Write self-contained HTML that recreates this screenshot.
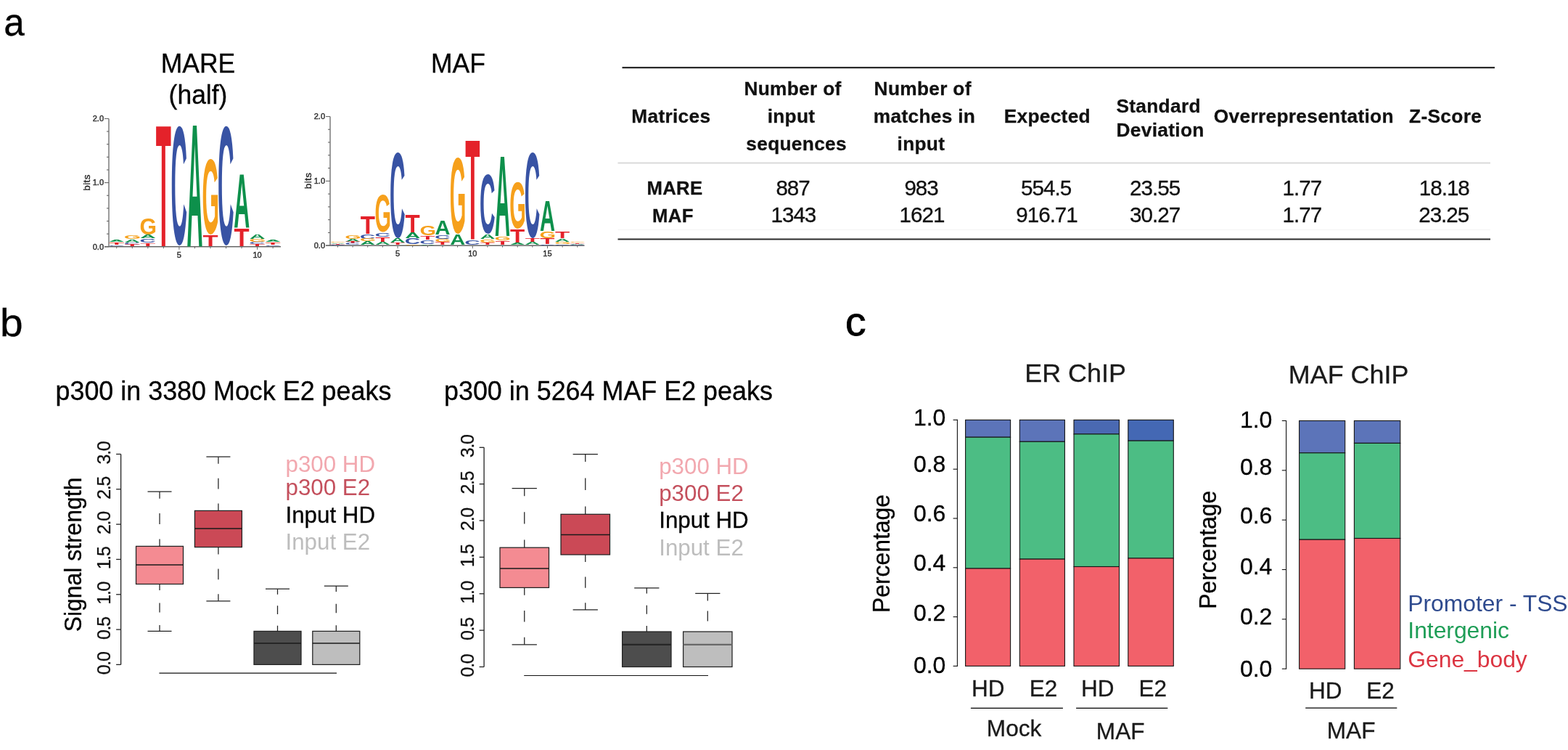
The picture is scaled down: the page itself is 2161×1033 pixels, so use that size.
<!DOCTYPE html>
<html lang="en">
<head>
<meta charset="utf-8">
<title>Figure: MARE / MAF motif enrichment, p300 signal and peak annotation</title>
<style>
html, body { margin: 0; padding: 0; background: #fff; }
body { width: 2161px; height: 1033px; overflow: hidden; }
svg { display: block; font-family: "Liberation Sans", sans-serif; }
.lg { font-family: "Liberation Sans", sans-serif; font-weight: bold; font-size: 100px; }
</style>
</head>
<body>
<svg width="2161" height="1033" viewBox="0 0 2161 1033">
<defs>
<filter id="soft" x="-5%" y="-5%" width="110%" height="110%"><feGaussianBlur stdDeviation="0.55"/></filter>
</defs>
<rect width="2161" height="1033" fill="#ffffff"/>
<g id="panel-labels">
<text transform="translate(5.2 48.9) scale(0.9 0.95)" font-size="57" stroke="#000" stroke-width="0.3">a</text>
<text transform="translate(0 463) scale(1 0.95)" font-size="57" stroke="#000" stroke-width="0.3">b</text>
<text transform="translate(1165.0 462.3) scale(1.02 0.98)" font-size="56" stroke="#000" stroke-width="0.9">c</text>
</g>
<g id="logo-mare">
<text transform="translate(273 99.5) scale(1 1.04)" font-size="35.5" text-anchor="middle" stroke="#000" stroke-width="0.3">MARE</text>
<text transform="translate(273 143) scale(1 1.04)" font-size="35.5" text-anchor="middle" stroke="#000" stroke-width="0.3">(half)</text>
<g class="logo" filter="url(#soft)">
<line x1="150.0" y1="163.4" x2="150.0" y2="339.8" stroke="#666" stroke-width="1.3"/>
<line x1="144.0" y1="339.8" x2="387" y2="339.8" stroke="#666" stroke-width="1.6"/>
<line x1="144.0" y1="339.8" x2="150.0" y2="339.8" stroke="#666" stroke-width="1.1"/>
<line x1="147.0" y1="322.16" x2="150.0" y2="322.16" stroke="#666" stroke-width="1.1"/>
<line x1="147.0" y1="304.52" x2="150.0" y2="304.52" stroke="#666" stroke-width="1.1"/>
<line x1="147.0" y1="286.88" x2="150.0" y2="286.88" stroke="#666" stroke-width="1.1"/>
<line x1="147.0" y1="269.24" x2="150.0" y2="269.24" stroke="#666" stroke-width="1.1"/>
<line x1="144.0" y1="251.60000000000002" x2="150.0" y2="251.60000000000002" stroke="#666" stroke-width="1.1"/>
<line x1="147.0" y1="233.96" x2="150.0" y2="233.96" stroke="#666" stroke-width="1.1"/>
<line x1="147.0" y1="216.32000000000002" x2="150.0" y2="216.32000000000002" stroke="#666" stroke-width="1.1"/>
<line x1="147.0" y1="198.68" x2="150.0" y2="198.68" stroke="#666" stroke-width="1.1"/>
<line x1="147.0" y1="181.04" x2="150.0" y2="181.04" stroke="#666" stroke-width="1.1"/>
<line x1="144.0" y1="163.4" x2="150.0" y2="163.4" stroke="#666" stroke-width="1.1"/>
<text transform="translate(143.0 167.20000000000002)" font-size="11" text-anchor="end" fill="#333" stroke="#333" stroke-width="0.45">2.0</text>
<text transform="translate(143.0 255.4)" font-size="11" text-anchor="end" fill="#333" stroke="#333" stroke-width="0.45">1.0</text>
<text transform="translate(143.0 343.6)" font-size="11" text-anchor="end" fill="#333" stroke="#333" stroke-width="0.45">0.0</text>
<text transform="translate(124.0 251.4) rotate(-90)" font-size="13.6" text-anchor="middle" fill="#2a2a2a" letter-spacing="0.4" stroke="#2a2a2a" stroke-width="0.4">bits</text>
<line x1="160.74" y1="339.8" x2="160.74" y2="342.3" stroke="#666" stroke-width="1.0"/>
<line x1="182.28" y1="339.8" x2="182.28" y2="342.3" stroke="#666" stroke-width="1.0"/>
<line x1="203.82" y1="339.8" x2="203.82" y2="342.3" stroke="#666" stroke-width="1.0"/>
<line x1="225.36" y1="339.8" x2="225.36" y2="342.3" stroke="#666" stroke-width="1.0"/>
<line x1="246.9" y1="339.8" x2="246.9" y2="343.8" stroke="#666" stroke-width="1.0"/>
<line x1="268.44" y1="339.8" x2="268.44" y2="342.3" stroke="#666" stroke-width="1.0"/>
<line x1="289.98" y1="339.8" x2="289.98" y2="342.3" stroke="#666" stroke-width="1.0"/>
<line x1="311.52" y1="339.8" x2="311.52" y2="342.3" stroke="#666" stroke-width="1.0"/>
<line x1="333.06" y1="339.8" x2="333.06" y2="342.3" stroke="#666" stroke-width="1.0"/>
<line x1="354.6" y1="339.8" x2="354.6" y2="343.8" stroke="#666" stroke-width="1.0"/>
<line x1="376.14" y1="339.8" x2="376.14" y2="342.3" stroke="#666" stroke-width="1.0"/>
<text transform="translate(246.9 354.6)" font-size="11" text-anchor="middle" fill="#333" stroke="#333" stroke-width="0.45">5</text>
<text transform="translate(354.6 354.6)" font-size="11" text-anchor="middle" fill="#333" stroke="#333" stroke-width="0.45">10</text>
<text class="lg" fill="#10904c" transform="matrix(0.3034 0 0 0.0291 149.81 333.07)">A</text>
<text class="lg" fill="#f6a01a" transform="matrix(0.3016 0 0 0.0226 149.33 334.87)">G</text>
<text class="lg" fill="#e4202a" transform="matrix(0.3457 0 0 0.0291 150.17 337.08)">T</text>
<text class="lg" fill="#3953a4" transform="matrix(0.3113 0 0 0.0254 149.29 339.08)">C</text>
<text class="lg" fill="#f6a01a" transform="matrix(0.3016 0 0 0.0736 170.87 329.08)">G</text>
<text class="lg" fill="#10904c" transform="matrix(0.3034 0 0 0.0583 171.35 333.74)">A</text>
<text class="lg" fill="#3953a4" transform="matrix(0.3113 0 0 0.0340 170.83 336.55)">C</text>
<text class="lg" fill="#e4202a" transform="matrix(0.3457 0 0 0.0320 171.71 339.06)">T</text>
<text class="lg" fill="#f6a01a" transform="matrix(0.3016 0 0 0.3186 192.41 323.03)">G</text>
<text class="lg" fill="#10904c" transform="matrix(0.3034 0 0 0.0641 192.89 328.35)">A</text>
<text class="lg" fill="#3953a4" transform="matrix(0.3113 0 0 0.0736 192.37 333.98)">C</text>
<text class="lg" fill="#e4202a" transform="matrix(0.3457 0 0 0.0611 193.25 338.83)">T</text>
<text class="lg" fill="#e4202a" transform="matrix(0.3457 0 0 2.3961 214.79 338.70)">T</text>
<text class="lg" fill="#3953a4" transform="matrix(0.3113 0 0 2.3190 235.45 336.44)">C</text>
<text class="lg" fill="#10904c" transform="matrix(0.3034 0 0 2.4091 257.51 338.70)">A</text>
<text class="lg" fill="#f6a01a" transform="matrix(0.3016 0 0 1.4729 278.57 321.90)">G</text>
<text class="lg" fill="#e4202a" transform="matrix(0.3457 0 0 0.2146 279.41 338.70)">T</text>
<text class="lg" fill="#3953a4" transform="matrix(0.3113 0 0 2.3190 300.07 336.44)">C</text>
<text class="lg" fill="#10904c" transform="matrix(0.3034 0 0 1.0627 322.13 314.43)">A</text>
<text class="lg" fill="#e4202a" transform="matrix(0.3457 0 0 0.3440 322.49 338.70)">T</text>
<text class="lg" fill="#10904c" transform="matrix(0.3034 0 0 0.0819 343.67 329.13)">A</text>
<text class="lg" fill="#f6a01a" transform="matrix(0.3016 0 0 0.0453 343.19 332.89)">G</text>
<text class="lg" fill="#3953a4" transform="matrix(0.3113 0 0 0.0340 343.15 335.66)">C</text>
<text class="lg" fill="#e4202a" transform="matrix(0.3457 0 0 0.0436 344.03 338.97)">T</text>
<text class="lg" fill="#10904c" transform="matrix(0.3034 0 0 0.0291 365.21 333.07)">A</text>
<text class="lg" fill="#f6a01a" transform="matrix(0.3016 0 0 0.0226 364.73 334.87)">G</text>
<text class="lg" fill="#e4202a" transform="matrix(0.3457 0 0 0.0291 365.57 337.08)">T</text>
<text class="lg" fill="#3953a4" transform="matrix(0.3113 0 0 0.0254 364.69 339.08)">C</text>
</g></g>
<g id="logo-maf">
<text transform="translate(631.5 99.5) scale(1 1.04)" font-size="35.5" text-anchor="middle" stroke="#000" stroke-width="0.3">MAF</text>
<g class="logo" filter="url(#soft)">
<line x1="455" y1="160.5" x2="455" y2="338.2" stroke="#666" stroke-width="1.3"/>
<line x1="449" y1="338.2" x2="805.5" y2="338.2" stroke="#666" stroke-width="1.6"/>
<line x1="449" y1="338.2" x2="455" y2="338.2" stroke="#666" stroke-width="1.1"/>
<line x1="452" y1="320.43" x2="455" y2="320.43" stroke="#666" stroke-width="1.1"/>
<line x1="452" y1="302.65999999999997" x2="455" y2="302.65999999999997" stroke="#666" stroke-width="1.1"/>
<line x1="452" y1="284.89" x2="455" y2="284.89" stroke="#666" stroke-width="1.1"/>
<line x1="452" y1="267.12" x2="455" y2="267.12" stroke="#666" stroke-width="1.1"/>
<line x1="449" y1="249.35" x2="455" y2="249.35" stroke="#666" stroke-width="1.1"/>
<line x1="452" y1="231.58" x2="455" y2="231.58" stroke="#666" stroke-width="1.1"/>
<line x1="452" y1="213.81" x2="455" y2="213.81" stroke="#666" stroke-width="1.1"/>
<line x1="452" y1="196.04" x2="455" y2="196.04" stroke="#666" stroke-width="1.1"/>
<line x1="452" y1="178.26999999999998" x2="455" y2="178.26999999999998" stroke="#666" stroke-width="1.1"/>
<line x1="449" y1="160.5" x2="455" y2="160.5" stroke="#666" stroke-width="1.1"/>
<text transform="translate(448 164.3)" font-size="11" text-anchor="end" fill="#333" stroke="#333" stroke-width="0.45">2.0</text>
<text transform="translate(448 252.9)" font-size="11" text-anchor="end" fill="#333" stroke="#333" stroke-width="0.45">1.0</text>
<text transform="translate(448 342.0)" font-size="11" text-anchor="end" fill="#333" stroke="#333" stroke-width="0.45">0.0</text>
<text transform="translate(429.0 248.9) rotate(-90)" font-size="13.6" text-anchor="middle" fill="#2a2a2a" letter-spacing="0.4" stroke="#2a2a2a" stroke-width="0.4">bits</text>
<line x1="465.5" y1="338.2" x2="465.5" y2="340.7" stroke="#666" stroke-width="1.0"/>
<line x1="486.14" y1="338.2" x2="486.14" y2="340.7" stroke="#666" stroke-width="1.0"/>
<line x1="506.78" y1="338.2" x2="506.78" y2="340.7" stroke="#666" stroke-width="1.0"/>
<line x1="527.42" y1="338.2" x2="527.42" y2="340.7" stroke="#666" stroke-width="1.0"/>
<line x1="548.06" y1="338.2" x2="548.06" y2="342.2" stroke="#666" stroke-width="1.0"/>
<line x1="568.7" y1="338.2" x2="568.7" y2="340.7" stroke="#666" stroke-width="1.0"/>
<line x1="589.34" y1="338.2" x2="589.34" y2="340.7" stroke="#666" stroke-width="1.0"/>
<line x1="609.98" y1="338.2" x2="609.98" y2="340.7" stroke="#666" stroke-width="1.0"/>
<line x1="630.62" y1="338.2" x2="630.62" y2="340.7" stroke="#666" stroke-width="1.0"/>
<line x1="651.26" y1="338.2" x2="651.26" y2="342.2" stroke="#666" stroke-width="1.0"/>
<line x1="671.9" y1="338.2" x2="671.9" y2="340.7" stroke="#666" stroke-width="1.0"/>
<line x1="692.54" y1="338.2" x2="692.54" y2="340.7" stroke="#666" stroke-width="1.0"/>
<line x1="713.1800000000001" y1="338.2" x2="713.1800000000001" y2="340.7" stroke="#666" stroke-width="1.0"/>
<line x1="733.8199999999999" y1="338.2" x2="733.8199999999999" y2="340.7" stroke="#666" stroke-width="1.0"/>
<line x1="754.46" y1="338.2" x2="754.46" y2="342.2" stroke="#666" stroke-width="1.0"/>
<line x1="775.1" y1="338.2" x2="775.1" y2="340.7" stroke="#666" stroke-width="1.0"/>
<line x1="795.74" y1="338.2" x2="795.74" y2="340.7" stroke="#666" stroke-width="1.0"/>
<text transform="translate(548.06 353.0)" font-size="11" text-anchor="middle" fill="#333" stroke="#333" stroke-width="0.45">5</text>
<text transform="translate(651.26 353.0)" font-size="11" text-anchor="middle" fill="#333" stroke="#333" stroke-width="0.45">10</text>
<text transform="translate(754.46 353.0)" font-size="11" text-anchor="middle" fill="#333" stroke="#333" stroke-width="0.45">15</text>
<text class="lg" fill="#f6a01a" transform="matrix(0.2890 0 0 0.0226 454.56 334.43)">G</text>
<text class="lg" fill="#10904c" transform="matrix(0.2907 0 0 0.0175 455.02 335.84)">A</text>
<text class="lg" fill="#e4202a" transform="matrix(0.3312 0 0 0.0146 455.38 336.97)">T</text>
<text class="lg" fill="#3953a4" transform="matrix(0.2983 0 0 0.0078 454.52 337.63)">C</text>
<text class="lg" fill="#f6a01a" transform="matrix(0.2890 0 0 0.0796 475.20 328.61)">G</text>
<text class="lg" fill="#10904c" transform="matrix(0.2907 0 0 0.0466 475.66 332.50)">A</text>
<text class="lg" fill="#e4202a" transform="matrix(0.3312 0 0 0.0350 476.02 335.26)">T</text>
<text class="lg" fill="#3953a4" transform="matrix(0.2983 0 0 0.0276 475.16 337.46)">C</text>
<text class="lg" fill="#e4202a" transform="matrix(0.3312 0 0 0.3473 496.66 322.01)">T</text>
<text class="lg" fill="#3953a4" transform="matrix(0.2983 0 0 0.0859 495.80 328.61)">C</text>
<text class="lg" fill="#f6a01a" transform="matrix(0.2890 0 0 0.0453 495.84 332.45)">G</text>
<text class="lg" fill="#10904c" transform="matrix(0.2907 0 0 0.0634 496.30 337.22)">A</text>
<text class="lg" fill="#f6a01a" transform="matrix(0.2890 0 0 0.7307 516.48 319.07)">G</text>
<text class="lg" fill="#3953a4" transform="matrix(0.2983 0 0 0.0796 516.44 325.94)">C</text>
<text class="lg" fill="#e4202a" transform="matrix(0.3312 0 0 0.0949 517.30 333.14)">T</text>
<text class="lg" fill="#10904c" transform="matrix(0.2907 0 0 0.0518 516.94 337.30)">A</text>
<text class="lg" fill="#3953a4" transform="matrix(0.2983 0 0 1.6680 537.08 325.95)">C</text>
<text class="lg" fill="#10904c" transform="matrix(0.2907 0 0 0.0851 537.58 334.03)">A</text>
<text class="lg" fill="#e4202a" transform="matrix(0.3312 0 0 0.0401 537.94 337.39)">T</text>
<text class="lg" fill="#e4202a" transform="matrix(0.3312 0 0 0.3473 558.58 319.78)">T</text>
<text class="lg" fill="#10904c" transform="matrix(0.2907 0 0 0.1143 558.22 328.24)">A</text>
<text class="lg" fill="#3953a4" transform="matrix(0.2983 0 0 0.1048 557.72 336.16)">C</text>
<text class="lg" fill="#f6a01a" transform="matrix(0.2890 0 0 0.0107 557.76 337.61)">G</text>
<text class="lg" fill="#f6a01a" transform="matrix(0.2890 0 0 0.1897 578.40 323.61)">G</text>
<text class="lg" fill="#e4202a" transform="matrix(0.3312 0 0 0.0757 579.22 329.60)">T</text>
<text class="lg" fill="#3953a4" transform="matrix(0.2983 0 0 0.0796 578.36 335.74)">C</text>
<text class="lg" fill="#10904c" transform="matrix(0.2907 0 0 0.0168 578.86 337.57)">A</text>
<text class="lg" fill="#10904c" transform="matrix(0.2907 0 0 0.2697 599.50 323.34)">A</text>
<text class="lg" fill="#3953a4" transform="matrix(0.2983 0 0 0.0679 599.00 328.69)">C</text>
<text class="lg" fill="#f6a01a" transform="matrix(0.2890 0 0 0.0510 599.04 332.85)">G</text>
<text class="lg" fill="#e4202a" transform="matrix(0.3312 0 0 0.0576 599.86 337.26)">T</text>
<text class="lg" fill="#f6a01a" transform="matrix(0.2890 0 0 1.4856 619.68 320.56)">G</text>
<text class="lg" fill="#10904c" transform="matrix(0.2907 0 0 0.2049 620.14 336.71)">A</text>
<text class="lg" fill="#e4202a" transform="matrix(0.3312 0 0 0.0051 620.50 337.66)">T</text>
<text class="lg" fill="#e4202a" transform="matrix(0.3312 0 0 1.9690 641.14 329.58)">T</text>
<text class="lg" fill="#3953a4" transform="matrix(0.2983 0 0 0.0922 640.28 336.62)">C</text>
<text class="lg" fill="#10904c" transform="matrix(0.2907 0 0 0.0051 640.78 337.66)">A</text>
<text class="lg" fill="#3953a4" transform="matrix(0.2983 0 0 1.1490 660.92 320.89)">C</text>
<text class="lg" fill="#10904c" transform="matrix(0.2907 0 0 0.0949 661.42 329.13)">A</text>
<text class="lg" fill="#f6a01a" transform="matrix(0.2890 0 0 0.0623 660.96 334.08)">G</text>
<text class="lg" fill="#e4202a" transform="matrix(0.3312 0 0 0.0401 661.78 337.39)">T</text>
<text class="lg" fill="#10904c" transform="matrix(0.2907 0 0 1.5838 682.06 325.13)">A</text>
<text class="lg" fill="#f6a01a" transform="matrix(0.2890 0 0 0.0736 681.60 330.87)">G</text>
<text class="lg" fill="#e4202a" transform="matrix(0.3312 0 0 0.0812 682.42 337.10)">T</text>
<text class="lg" fill="#f6a01a" transform="matrix(0.2890 0 0 0.9068 702.24 314.00)">G</text>
<text class="lg" fill="#e4202a" transform="matrix(0.3312 0 0 0.2826 703.06 334.92)">T</text>
<text class="lg" fill="#10904c" transform="matrix(0.2907 0 0 0.0285 702.70 337.48)">A</text>
<text class="lg" fill="#3953a4" transform="matrix(0.2983 0 0 1.6649 722.84 325.73)">C</text>
<text class="lg" fill="#e4202a" transform="matrix(0.3312 0 0 0.0699 723.70 332.76)">T</text>
<text class="lg" fill="#10904c" transform="matrix(0.2907 0 0 0.0576 723.34 337.26)">A</text>
<text class="lg" fill="#10904c" transform="matrix(0.2907 0 0 0.5869 743.98 318.45)">A</text>
<text class="lg" fill="#f6a01a" transform="matrix(0.2890 0 0 0.1236 743.52 327.68)">G</text>
<text class="lg" fill="#e4202a" transform="matrix(0.3312 0 0 0.1143 744.34 336.26)">T</text>
<text class="lg" fill="#3953a4" transform="matrix(0.2983 0 0 0.0107 743.48 337.61)">C</text>
<text class="lg" fill="#e4202a" transform="matrix(0.3312 0 0 0.1208 764.98 328.24)">T</text>
<text class="lg" fill="#10904c" transform="matrix(0.2907 0 0 0.0583 764.62 332.85)">A</text>
<text class="lg" fill="#f6a01a" transform="matrix(0.2890 0 0 0.0340 764.16 335.67)">G</text>
<text class="lg" fill="#3953a4" transform="matrix(0.2983 0 0 0.0220 764.12 337.51)">C</text>
<text class="lg" fill="#f6a01a" transform="matrix(0.2890 0 0 0.0226 784.80 334.43)">G</text>
<text class="lg" fill="#e4202a" transform="matrix(0.3312 0 0 0.0175 785.62 335.84)">T</text>
<text class="lg" fill="#10904c" transform="matrix(0.2907 0 0 0.0146 785.26 336.97)">A</text>
<text class="lg" fill="#3953a4" transform="matrix(0.2983 0 0 0.0078 784.76 337.63)">C</text>
</g></g>
<g id="table">
<line x1="857.5" y1="93.2" x2="2060" y2="93.2" stroke="#2a2a2a" stroke-width="2.2"/>
<line x1="851.5" y1="224.4" x2="2054" y2="224.4" stroke="#d0d0d0" stroke-width="1.5"/>
<line x1="851.5" y1="316.6" x2="2054" y2="316.6" stroke="#f6f6f6" stroke-width="1.5"/>
<line x1="851.5" y1="329.5" x2="2054" y2="329.5" stroke="#2a2a2a" stroke-width="2.2"/>
<text transform="translate(924.8 168.8)" font-size="26.3" text-anchor="middle" font-weight="bold" fill="#111" letter-spacing="0.3" stroke="#111" stroke-width="0.3">Matrices</text>
<text transform="translate(1092.5 131.0)" font-size="26.3" text-anchor="middle" font-weight="bold" fill="#111" letter-spacing="0.3" stroke="#111" stroke-width="0.3">Number of</text>
<text transform="translate(1090.5 168.8)" font-size="26.3" text-anchor="middle" font-weight="bold" fill="#111" letter-spacing="0.3" stroke="#111" stroke-width="0.3">input</text>
<text transform="translate(1097.6 206.8)" font-size="26.3" text-anchor="middle" font-weight="bold" fill="#111" letter-spacing="0.3" stroke="#111" stroke-width="0.3">sequences</text>
<text transform="translate(1271.7 131.0)" font-size="26.3" text-anchor="middle" font-weight="bold" fill="#111" letter-spacing="0.3" stroke="#111" stroke-width="0.3">Number of</text>
<text transform="translate(1274.0 168.8)" font-size="26.3" text-anchor="middle" font-weight="bold" fill="#111" letter-spacing="0.3" stroke="#111" stroke-width="0.3">matches in</text>
<text transform="translate(1269.4 206.8)" font-size="26.3" text-anchor="middle" font-weight="bold" fill="#111" letter-spacing="0.3" stroke="#111" stroke-width="0.3">input</text>
<text transform="translate(1443.3 168.8)" font-size="26.3" text-anchor="middle" font-weight="bold" fill="#111" letter-spacing="0.3" stroke="#111" stroke-width="0.3">Expected</text>
<text transform="translate(1596.6 155.2)" font-size="26.3" text-anchor="middle" font-weight="bold" fill="#111" letter-spacing="0.3" stroke="#111" stroke-width="0.3">Standard</text>
<text transform="translate(1599.1 187.8)" font-size="26.3" text-anchor="middle" font-weight="bold" fill="#111" letter-spacing="0.3" stroke="#111" stroke-width="0.3">Deviation</text>
<text transform="translate(1796.8 168.8)" font-size="26.3" text-anchor="middle" font-weight="bold" fill="#111" letter-spacing="0.3" stroke="#111" stroke-width="0.3">Overrepresentation</text>
<text transform="translate(1992.1 168.8)" font-size="26.3" text-anchor="middle" font-weight="bold" fill="#111" letter-spacing="0.3" stroke="#111" stroke-width="0.3">Z-Score</text>
<text transform="translate(930 268.2) scale(1 1.02)" font-size="25.7" text-anchor="middle" font-weight="bold" fill="#111" letter-spacing="0.4" stroke="#111" stroke-width="0.3">MARE</text>
<text transform="translate(1092.6 268.6)" font-size="29.6" text-anchor="middle" fill="#111" letter-spacing="-1.0" stroke="#111" stroke-width="0.3">887</text>
<text transform="translate(1269.6 268.6)" font-size="29.6" text-anchor="middle" fill="#111" letter-spacing="-1.0" stroke="#111" stroke-width="0.3">983</text>
<text transform="translate(1441.6 268.6)" font-size="29.6" text-anchor="middle" fill="#111" letter-spacing="-1.0" stroke="#111" stroke-width="0.3">554.5</text>
<text transform="translate(1591.6 268.6)" font-size="29.6" text-anchor="middle" fill="#111" letter-spacing="-1.0" stroke="#111" stroke-width="0.3">23.55</text>
<text transform="translate(1794.4 268.6)" font-size="29.6" text-anchor="middle" fill="#111" letter-spacing="-1.0" stroke="#111" stroke-width="0.3">1.77</text>
<text transform="translate(1990.3 268.6)" font-size="29.6" text-anchor="middle" fill="#111" letter-spacing="-1.0" stroke="#111" stroke-width="0.3">18.18</text>
<text transform="translate(927.5 306.0) scale(1 1.02)" font-size="25.7" text-anchor="middle" font-weight="bold" fill="#111" letter-spacing="0.4" stroke="#111" stroke-width="0.3">MAF</text>
<text transform="translate(1093.4 306.40000000000003)" font-size="29.6" text-anchor="middle" fill="#111" letter-spacing="-1.0" stroke="#111" stroke-width="0.3">1343</text>
<text transform="translate(1270.5 306.40000000000003)" font-size="29.6" text-anchor="middle" fill="#111" letter-spacing="-1.0" stroke="#111" stroke-width="0.3">1621</text>
<text transform="translate(1442.5 306.40000000000003)" font-size="29.6" text-anchor="middle" fill="#111" letter-spacing="-1.0" stroke="#111" stroke-width="0.3">916.71</text>
<text transform="translate(1591.6 306.40000000000003)" font-size="29.6" text-anchor="middle" fill="#111" letter-spacing="-1.0" stroke="#111" stroke-width="0.3">30.27</text>
<text transform="translate(1794.4 306.40000000000003)" font-size="29.6" text-anchor="middle" fill="#111" letter-spacing="-1.0" stroke="#111" stroke-width="0.3">1.77</text>
<text transform="translate(1989.7 306.40000000000003)" font-size="29.6" text-anchor="middle" fill="#111" letter-spacing="-1.0" stroke="#111" stroke-width="0.3">23.25</text>
</g>
<g id="box-mock">
<text transform="translate(76.5 550.9) scale(1 1.04)" font-size="35.9" stroke="#000" stroke-width="0.3">p300 in 3380 Mock E2 peaks</text>
<line x1="166.6" y1="625.5" x2="166.6" y2="915.4" stroke="#222" stroke-width="1.3"/>
<line x1="160.1" y1="915.4" x2="166.6" y2="915.4" stroke="#222" stroke-width="1.3"/>
<text transform="translate(152.4 913.9) rotate(-90)" font-size="25" text-anchor="middle" fill="#111" letter-spacing="-1.3" stroke="#111" stroke-width="0.3">0.0</text>
<line x1="160.1" y1="867.0833333333333" x2="166.6" y2="867.0833333333333" stroke="#222" stroke-width="1.3"/>
<text transform="translate(152.4 865.5833333333333) rotate(-90)" font-size="25" text-anchor="middle" fill="#111" letter-spacing="-1.3" stroke="#111" stroke-width="0.3">0.5</text>
<line x1="160.1" y1="818.7666666666667" x2="166.6" y2="818.7666666666667" stroke="#222" stroke-width="1.3"/>
<text transform="translate(152.4 817.2666666666667) rotate(-90)" font-size="25" text-anchor="middle" fill="#111" letter-spacing="-1.3" stroke="#111" stroke-width="0.3">1.0</text>
<line x1="160.1" y1="770.45" x2="166.6" y2="770.45" stroke="#222" stroke-width="1.3"/>
<text transform="translate(152.4 768.95) rotate(-90)" font-size="25" text-anchor="middle" fill="#111" letter-spacing="-1.3" stroke="#111" stroke-width="0.3">1.5</text>
<line x1="160.1" y1="722.1333333333333" x2="166.6" y2="722.1333333333333" stroke="#222" stroke-width="1.3"/>
<text transform="translate(152.4 720.6333333333333) rotate(-90)" font-size="25" text-anchor="middle" fill="#111" letter-spacing="-1.3" stroke="#111" stroke-width="0.3">2.0</text>
<line x1="160.1" y1="673.8166666666666" x2="166.6" y2="673.8166666666666" stroke="#222" stroke-width="1.3"/>
<text transform="translate(152.4 672.3166666666666) rotate(-90)" font-size="25" text-anchor="middle" fill="#111" letter-spacing="-1.3" stroke="#111" stroke-width="0.3">2.5</text>
<line x1="160.1" y1="625.5" x2="166.6" y2="625.5" stroke="#222" stroke-width="1.3"/>
<text transform="translate(152.4 624.0) rotate(-90)" font-size="25" text-anchor="middle" fill="#111" letter-spacing="-1.3" stroke="#111" stroke-width="0.3">3.0</text>
<text transform="translate(112.3 764) rotate(-90) scale(1 1.04)" font-size="31.9" text-anchor="middle" stroke="#000" stroke-width="0.3">Signal strength</text>
<line x1="220.0" y1="677" x2="220.0" y2="752.4" stroke="#222" stroke-width="1.25" stroke-dasharray="9.65 20.36 15.08 20.36 10.56"/>
<line x1="203.49" y1="677" x2="236.51" y2="677" stroke="#222" stroke-width="1.25"/>
<line x1="220.0" y1="869.4" x2="220.0" y2="804.5" stroke="#222" stroke-width="1.25" stroke-dasharray="8.31 17.52 12.98 17.52 9.09"/>
<line x1="203.49" y1="869.4" x2="236.51" y2="869.4" stroke="#222" stroke-width="1.25"/>
<rect x="187.50" y="752.40" width="65.00" height="52.10" fill="#f48b92" stroke="#222" stroke-width="1.25"/>
<line x1="187.5" y1="778.1" x2="252.5" y2="778.1" stroke="#1a1a1a" stroke-width="1.5"/>
<line x1="300.9" y1="629.2" x2="300.9" y2="703.4" stroke="#222" stroke-width="1.25" stroke-dasharray="9.50 20.03 14.84 20.03 10.39"/>
<line x1="284.39" y1="629.2" x2="317.40999999999997" y2="629.2" stroke="#222" stroke-width="1.25"/>
<line x1="300.9" y1="827.8" x2="300.9" y2="753.6" stroke="#222" stroke-width="1.25" stroke-dasharray="9.50 20.03 14.84 20.03 10.39"/>
<line x1="284.39" y1="827.8" x2="317.40999999999997" y2="827.8" stroke="#222" stroke-width="1.25"/>
<rect x="268.40" y="703.40" width="65.00" height="50.20" fill="#cb4956" stroke="#222" stroke-width="1.25"/>
<line x1="268.4" y1="727.9" x2="333.4" y2="727.9" stroke="#1a1a1a" stroke-width="1.5"/>
<line x1="382.5" y1="811.2" x2="382.5" y2="869.4" stroke="#222" stroke-width="1.25" stroke-dasharray="7.45 15.71 11.64 15.71 8.15"/>
<line x1="365.99" y1="811.2" x2="399.01" y2="811.2" stroke="#222" stroke-width="1.25"/>
<rect x="350.00" y="869.40" width="65.00" height="46.00" fill="#4d4d4d" stroke="#222" stroke-width="1.25"/>
<line x1="350" y1="886" x2="415" y2="886" stroke="#1a1a1a" stroke-width="1.5"/>
<line x1="463.3" y1="807" x2="463.3" y2="869.4" stroke="#222" stroke-width="1.25" stroke-dasharray="7.99 16.85 12.48 16.85 8.74"/>
<line x1="446.79" y1="807" x2="479.81" y2="807" stroke="#222" stroke-width="1.25"/>
<rect x="430.80" y="869.40" width="65.00" height="46.00" fill="#bebebe" stroke="#222" stroke-width="1.25"/>
<line x1="430.8" y1="886" x2="495.8" y2="886" stroke="#1a1a1a" stroke-width="1.5"/>
<line x1="219.4" y1="927.1" x2="464" y2="927.1" stroke="#111" stroke-width="1.2"/>
<text transform="translate(393.5 649.9)" font-size="31.3" fill="#f2a8af">p300 HD</text>
<text transform="translate(393.5 682.1)" font-size="31.3" fill="#c4505d">p300 E2</text>
<text transform="translate(393.5 720)" font-size="31.3" stroke="#000" stroke-width="0.3">Input HD</text>
<text transform="translate(393.5 757.3)" font-size="31.3" fill="#bdbdbd">Input E2</text>
</g>
<g id="box-maf">
<text transform="translate(612 550.9) scale(1 1.04)" font-size="35.9" stroke="#000" stroke-width="0.3">p300 in 5264 MAF E2 peaks</text>
<line x1="667.1" y1="616.3" x2="667.1" y2="918.5" stroke="#222" stroke-width="1.3"/>
<line x1="660.6" y1="918.5" x2="667.1" y2="918.5" stroke="#222" stroke-width="1.3"/>
<text transform="translate(652.9 917.0) rotate(-90)" font-size="25" text-anchor="middle" fill="#111" letter-spacing="-1.3" stroke="#111" stroke-width="0.3">0.0</text>
<line x1="660.6" y1="868.1333333333333" x2="667.1" y2="868.1333333333333" stroke="#222" stroke-width="1.3"/>
<text transform="translate(652.9 866.6333333333333) rotate(-90)" font-size="25" text-anchor="middle" fill="#111" letter-spacing="-1.3" stroke="#111" stroke-width="0.3">0.5</text>
<line x1="660.6" y1="817.7666666666667" x2="667.1" y2="817.7666666666667" stroke="#222" stroke-width="1.3"/>
<text transform="translate(652.9 816.2666666666667) rotate(-90)" font-size="25" text-anchor="middle" fill="#111" letter-spacing="-1.3" stroke="#111" stroke-width="0.3">1.0</text>
<line x1="660.6" y1="767.4" x2="667.1" y2="767.4" stroke="#222" stroke-width="1.3"/>
<text transform="translate(652.9 765.9) rotate(-90)" font-size="25" text-anchor="middle" fill="#111" letter-spacing="-1.3" stroke="#111" stroke-width="0.3">1.5</text>
<line x1="660.6" y1="717.0333333333333" x2="667.1" y2="717.0333333333333" stroke="#222" stroke-width="1.3"/>
<text transform="translate(652.9 715.5333333333333) rotate(-90)" font-size="25" text-anchor="middle" fill="#111" letter-spacing="-1.3" stroke="#111" stroke-width="0.3">2.0</text>
<line x1="660.6" y1="666.6666666666666" x2="667.1" y2="666.6666666666666" stroke="#222" stroke-width="1.3"/>
<text transform="translate(652.9 665.1666666666666) rotate(-90)" font-size="25" text-anchor="middle" fill="#111" letter-spacing="-1.3" stroke="#111" stroke-width="0.3">2.5</text>
<line x1="660.6" y1="616.3" x2="667.1" y2="616.3" stroke="#222" stroke-width="1.3"/>
<text transform="translate(652.9 614.8) rotate(-90)" font-size="25" text-anchor="middle" fill="#111" letter-spacing="-1.3" stroke="#111" stroke-width="0.3">3.0</text>
<line x1="722.75" y1="672.7" x2="722.75" y2="754.2" stroke="#222" stroke-width="1.25" stroke-dasharray="10.43 22.01 16.30 22.01 11.41"/>
<line x1="705.605" y1="672.7" x2="739.895" y2="672.7" stroke="#222" stroke-width="1.25"/>
<line x1="722.75" y1="887.8" x2="722.75" y2="809.4" stroke="#222" stroke-width="1.25" stroke-dasharray="10.04 21.17 15.68 21.17 10.98"/>
<line x1="705.605" y1="887.8" x2="739.895" y2="887.8" stroke="#222" stroke-width="1.25"/>
<rect x="689.00" y="754.20" width="67.50" height="55.20" fill="#f48b92" stroke="#222" stroke-width="1.25"/>
<line x1="689" y1="783" x2="756.5" y2="783" stroke="#1a1a1a" stroke-width="1.5"/>
<line x1="806.75" y1="625.5" x2="806.75" y2="708.3" stroke="#222" stroke-width="1.25" stroke-dasharray="10.60 22.36 16.56 22.36 11.59"/>
<line x1="789.605" y1="625.5" x2="823.895" y2="625.5" stroke="#222" stroke-width="1.25"/>
<line x1="806.75" y1="839.9" x2="806.75" y2="764" stroke="#222" stroke-width="1.25" stroke-dasharray="9.72 20.49 15.18 20.49 10.63"/>
<line x1="789.605" y1="839.9" x2="823.895" y2="839.9" stroke="#222" stroke-width="1.25"/>
<rect x="773.00" y="708.30" width="67.50" height="55.70" fill="#cb4956" stroke="#222" stroke-width="1.25"/>
<line x1="773" y1="736.5" x2="840.5" y2="736.5" stroke="#1a1a1a" stroke-width="1.5"/>
<line x1="891.3" y1="809.8" x2="891.3" y2="870" stroke="#222" stroke-width="1.25" stroke-dasharray="7.71 16.25 12.04 16.25 8.43"/>
<line x1="874.1804" y1="809.8" x2="908.4196" y2="809.8" stroke="#222" stroke-width="1.25"/>
<rect x="857.60" y="870.00" width="67.40" height="48.50" fill="#4d4d4d" stroke="#222" stroke-width="1.25"/>
<line x1="857.6" y1="887.8" x2="925" y2="887.8" stroke="#262626" stroke-width="2.3"/>
<line x1="975.3" y1="817.4" x2="975.3" y2="870" stroke="#222" stroke-width="1.25" stroke-dasharray="10 14 14 60"/>
<line x1="958.1804" y1="817.4" x2="992.4196" y2="817.4" stroke="#222" stroke-width="1.25"/>
<rect x="941.60" y="870.00" width="67.40" height="48.50" fill="#bebebe" stroke="#222" stroke-width="1.25"/>
<line x1="941.6" y1="887.8" x2="1009" y2="887.8" stroke="#686868" stroke-width="2.3"/>
<line x1="722.2" y1="930.5" x2="976" y2="930.5" stroke="#111" stroke-width="1.2"/>
<text transform="translate(908.2 652.6)" font-size="31.3" fill="#f2a8af">p300 HD</text>
<text transform="translate(908.2 689.8)" font-size="31.3" fill="#c4505d">p300 E2</text>
<text transform="translate(908.2 726.7)" font-size="31.3" stroke="#000" stroke-width="0.3">Input HD</text>
<text transform="translate(908.2 764.9)" font-size="31.3" fill="#bdbdbd">Input E2</text>
</g>
<g id="bar-er">
<text transform="translate(1482.1 526.3)" font-size="35.9" text-anchor="middle" fill="#1a1a1a" stroke="#1a1a1a" stroke-width="0.3">ER ChIP</text>
<line x1="1319.4" y1="577.8" x2="1319.4" y2="918.0" stroke="#111" stroke-width="1.1"/>
<line x1="1313.6000000000001" y1="917.4" x2="1319.4" y2="917.4" stroke="#111" stroke-width="1.1"/>
<text transform="translate(1303.4 926.9)" font-size="32" text-anchor="end" stroke="#000" stroke-width="0.3">0.0</text>
<line x1="1313.6000000000001" y1="849.6" x2="1319.4" y2="849.6" stroke="#111" stroke-width="1.1"/>
<text transform="translate(1303.4 854.9)" font-size="32" text-anchor="end" stroke="#000" stroke-width="0.3">0.2</text>
<line x1="1313.6000000000001" y1="781.8" x2="1319.4" y2="781.8" stroke="#111" stroke-width="1.1"/>
<text transform="translate(1303.4 786.2)" font-size="32" text-anchor="end" stroke="#000" stroke-width="0.3">0.4</text>
<line x1="1313.6000000000001" y1="714.0" x2="1319.4" y2="714.0" stroke="#111" stroke-width="1.1"/>
<text transform="translate(1303.4 718.0)" font-size="32" text-anchor="end" stroke="#000" stroke-width="0.3">0.6</text>
<line x1="1313.6000000000001" y1="646.2" x2="1319.4" y2="646.2" stroke="#111" stroke-width="1.1"/>
<text transform="translate(1303.4 649.8)" font-size="32" text-anchor="end" stroke="#000" stroke-width="0.3">0.8</text>
<line x1="1313.6000000000001" y1="578.4" x2="1319.4" y2="578.4" stroke="#111" stroke-width="1.1"/>
<text transform="translate(1303.4 585.5)" font-size="32" text-anchor="end" stroke="#000" stroke-width="0.3">1.0</text>
<rect x="1330.60" y="578.40" width="62.00" height="23.80" fill="#5c74b9" stroke="#161616" stroke-width="1.1"/>
<rect x="1330.60" y="602.20" width="62.00" height="180.80" fill="#4cbd84" stroke="#161616" stroke-width="1.1"/>
<rect x="1330.60" y="783.00" width="62.00" height="134.40" fill="#f2616a" stroke="#161616" stroke-width="1.1"/>
<rect x="1405.30" y="578.40" width="62.10" height="29.90" fill="#5c74b9" stroke="#161616" stroke-width="1.1"/>
<rect x="1405.30" y="608.30" width="62.10" height="161.80" fill="#4cbd84" stroke="#161616" stroke-width="1.1"/>
<rect x="1405.30" y="770.10" width="62.10" height="147.30" fill="#f2616a" stroke="#161616" stroke-width="1.1"/>
<rect x="1480.00" y="578.40" width="62.50" height="19.50" fill="#4a69b2" stroke="#161616" stroke-width="1.1"/>
<rect x="1480.00" y="597.90" width="62.50" height="182.60" fill="#4cbd84" stroke="#161616" stroke-width="1.1"/>
<rect x="1480.00" y="780.50" width="62.50" height="136.90" fill="#f2616a" stroke="#161616" stroke-width="1.1"/>
<rect x="1554.80" y="578.40" width="62.50" height="28.70" fill="#4468b4" stroke="#161616" stroke-width="1.1"/>
<rect x="1554.80" y="607.10" width="62.50" height="161.80" fill="#4cbd84" stroke="#161616" stroke-width="1.1"/>
<rect x="1554.80" y="768.90" width="62.50" height="148.50" fill="#f2616a" stroke="#161616" stroke-width="1.1"/>
<text transform="translate(1361.8 959.2)" font-size="31.5" text-anchor="middle" fill="#1a1a1a" stroke="#1a1a1a" stroke-width="0.3">HD</text>
<text transform="translate(1438 959.2)" font-size="31.5" text-anchor="middle" fill="#1a1a1a" stroke="#1a1a1a" stroke-width="0.3">E2</text>
<text transform="translate(1512.7 959.2)" font-size="31.5" text-anchor="middle" fill="#1a1a1a" stroke="#1a1a1a" stroke-width="0.3">HD</text>
<text transform="translate(1588.7 959.2)" font-size="31.5" text-anchor="middle" fill="#1a1a1a" stroke="#1a1a1a" stroke-width="0.3">E2</text>
<line x1="1337.9" y1="975.3" x2="1464.9" y2="975.3" stroke="#000" stroke-width="1.3"/>
<text transform="translate(1397.6 1014.2)" font-size="31.6" text-anchor="middle" fill="#1a1a1a" stroke="#1a1a1a" stroke-width="0.3">Mock</text>
<line x1="1483.1" y1="975.3" x2="1609.3" y2="975.3" stroke="#000" stroke-width="1.3"/>
<text transform="translate(1544.2 1017.9)" font-size="31.6" text-anchor="middle" fill="#1a1a1a" stroke="#1a1a1a" stroke-width="0.3">MAF</text>
<text transform="translate(1226.3 762.5) rotate(-90) scale(1 1.05)" font-size="31.9" text-anchor="middle" stroke="#000" stroke-width="0.3">Percentage</text>
</g>
<g id="bar-maf">
<text transform="translate(1858.6 527.5)" font-size="35.9" text-anchor="middle" fill="#1a1a1a" stroke="#1a1a1a" stroke-width="0.3">MAF ChIP</text>
<line x1="1772.6" y1="578.9" x2="1772.6" y2="921.8000000000001" stroke="#111" stroke-width="1.1"/>
<line x1="1766.8" y1="921.2" x2="1772.6" y2="921.2" stroke="#111" stroke-width="1.1"/>
<text transform="translate(1753.4 931.9)" font-size="32" text-anchor="end" stroke="#000" stroke-width="0.3">0.0</text>
<line x1="1766.8" y1="852.86" x2="1772.6" y2="852.86" stroke="#111" stroke-width="1.1"/>
<text transform="translate(1753.4 860.0)" font-size="32" text-anchor="end" stroke="#000" stroke-width="0.3">0.2</text>
<line x1="1766.8" y1="784.52" x2="1772.6" y2="784.52" stroke="#111" stroke-width="1.1"/>
<text transform="translate(1753.4 791.2)" font-size="32" text-anchor="end" stroke="#000" stroke-width="0.3">0.4</text>
<line x1="1766.8" y1="716.1800000000001" x2="1772.6" y2="716.1800000000001" stroke="#111" stroke-width="1.1"/>
<text transform="translate(1753.4 721.1)" font-size="32" text-anchor="end" stroke="#000" stroke-width="0.3">0.6</text>
<line x1="1766.8" y1="647.84" x2="1772.6" y2="647.84" stroke="#111" stroke-width="1.1"/>
<text transform="translate(1753.4 653.7)" font-size="32" text-anchor="end" stroke="#000" stroke-width="0.3">0.8</text>
<line x1="1766.8" y1="579.5" x2="1772.6" y2="579.5" stroke="#111" stroke-width="1.1"/>
<text transform="translate(1753.4 589.4)" font-size="32" text-anchor="end" stroke="#000" stroke-width="0.3">1.0</text>
<rect x="1790.60" y="579.50" width="63.10" height="44.30" fill="#5c74b9" stroke="#161616" stroke-width="1.1"/>
<rect x="1790.60" y="623.80" width="63.10" height="119.40" fill="#4cbd84" stroke="#161616" stroke-width="1.1"/>
<rect x="1790.60" y="743.20" width="63.10" height="178.00" fill="#f2616a" stroke="#161616" stroke-width="1.1"/>
<rect x="1866.40" y="579.50" width="63.40" height="30.90" fill="#5c74b9" stroke="#161616" stroke-width="1.1"/>
<rect x="1866.40" y="610.40" width="63.40" height="131.10" fill="#4cbd84" stroke="#161616" stroke-width="1.1"/>
<rect x="1866.40" y="741.50" width="63.40" height="179.70" fill="#f2616a" stroke="#161616" stroke-width="1.1"/>
<text transform="translate(1826.8 962.4)" font-size="31.5" text-anchor="middle" fill="#1a1a1a" stroke="#1a1a1a" stroke-width="0.3">HD</text>
<text transform="translate(1902.5 962.4)" font-size="31.5" text-anchor="middle" fill="#1a1a1a" stroke="#1a1a1a" stroke-width="0.3">E2</text>
<line x1="1799.2" y1="975.2" x2="1925.3" y2="975.2" stroke="#000" stroke-width="1.3"/>
<text transform="translate(1862.1 1017.4)" font-size="31.6" text-anchor="middle" fill="#1a1a1a" stroke="#1a1a1a" stroke-width="0.3">MAF</text>
<text transform="translate(1675.8 757.3) rotate(-90) scale(1 1.05)" font-size="31.9" text-anchor="middle" stroke="#000" stroke-width="0.3">Percentage</text>
</g>
<g id="bar-legend">
<text transform="translate(1940.3 842.0)" font-size="31.8" fill="#2e4a8e">Promoter - TSS</text>
<text transform="translate(1940.3 878.7)" font-size="31.8" fill="#1f9e57">Intergenic</text>
<text transform="translate(1940.3 919.4)" font-size="31.8" fill="#dc3542">Gene_body</text>
</g>
</svg>
</body>
</html>
